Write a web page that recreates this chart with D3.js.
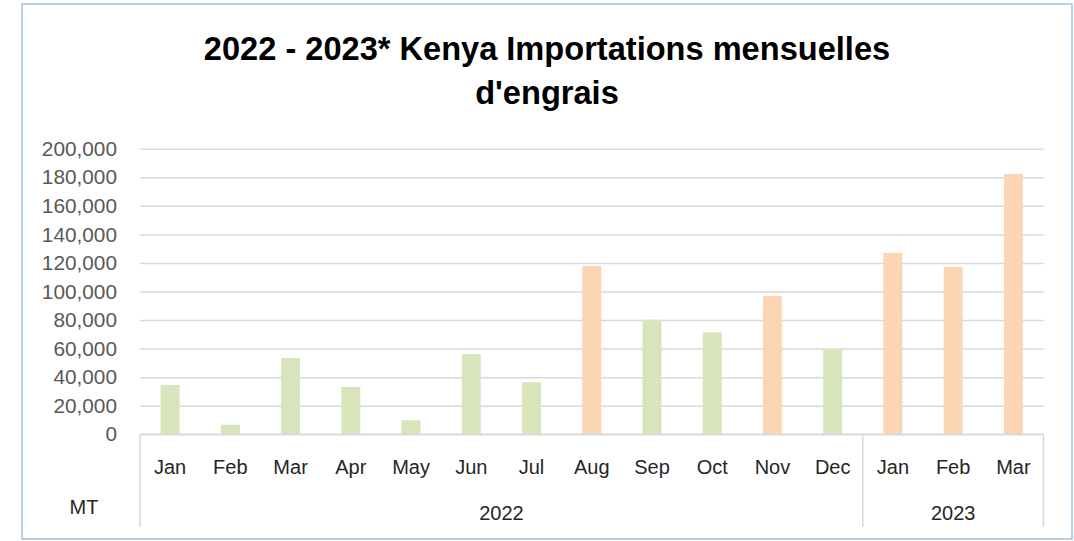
<!DOCTYPE html>
<html>
<head>
<meta charset="utf-8">
<script src="https://cdn.jsdelivr.net/npm/d3@7"></script>
<style>
  html, body { margin: 0; padding: 0; background: #fff; }
  svg { display: block; }
  text { font-family: "Liberation Sans", Arial, sans-serif; }
</style>
</head>
<body>
<div id="chart"></div>
<script>
// chart data
const months = ['Jan', 'Feb', 'Mar', 'Apr', 'May', 'Jun', 'Jul', 'Aug', 'Sep', 'Oct', 'Nov', 'Dec', 'Jan', 'Feb', 'Mar'];
const years = ['2022', '2022', '2022', '2022', '2022', '2022', '2022', '2022', '2022', '2022', '2022', '2022', '2023', '2023', '2023'];
const imports = [34500, 6700, 53400, 33100, 9800, 56200, 36400, 117900, 80300, 71400, 96900, 59500, 127000, 117200, 182300];
const highlighted = [false, false, false, false, false, false, false, true, false, false, true, false, true, true, true];
const yTicks = [0, 20000, 40000, 60000, 80000, 100000, 120000, 140000, 160000, 180000, 200000];
const titleLines = ['2022 - 2023* Kenya Importations mensuelles', "d'engrais"];
const unitLabel = 'MT';

const width = 1074, height = 541;
const plot = { left: 140, right: 1043.5, top: 148.7, bottom: 434.3 };

const svg = d3.select('#chart').append('svg')
  .attr('width', width)
  .attr('height', height);

// chart area border
svg.append('rect')
  .attr('x', 22).attr('y', 4)
  .attr('width', 1050).attr('height', 535)
  .attr('fill', '#fff')
  .attr('stroke', '#9DC3E6')
  .attr('stroke-width', 1.5);

// title
svg.append('text')
  .attr('x', 547)
  .attr('text-anchor', 'middle')
  .attr('font-size', 32.6)
  .attr('font-weight', 'bold')
  .attr('fill', '#000')
  .selectAll('tspan')
  .data(titleLines)
  .enter().append('tspan')
  .attr('x', 547)
  .attr('y', (d, i) => 59.5 + i * 44)
  .text(d => d);

const keys = months.map((m, i) => years[i] + '-' + m);

const x = d3.scaleBand()
  .domain(keys)
  .range([plot.left, plot.right])
  .paddingInner(0.685)
  .paddingOuter(0.3425);

const y = d3.scaleLinear()
  .domain([0, 200000])
  .range([plot.bottom, plot.top]);

// y axis with gridlines
const yAxis = svg.append('g')
  .attr('transform', `translate(${plot.left},0)`)
  .call(d3.axisLeft(y)
    .tickValues(yTicks)
    .tickFormat(d3.format(','))
    .tickSize(-(plot.right - plot.left))
    .tickPadding(23));

yAxis.select('.domain').remove();
yAxis.selectAll('.tick line')
  .attr('stroke', '#D9D9D9')
  .attr('stroke-width', 1.5);
yAxis.selectAll('.tick text')
  .attr('font-size', 20.8)
  .attr('fill', '#595959')
  .attr('font-family', '"Liberation Sans", Arial, sans-serif');

// bars
svg.append('g')
  .selectAll('rect')
  .data(imports)
  .enter().append('rect')
  .attr('x', (d, i) => x(keys[i]))
  .attr('y', d => y(d))
  .attr('width', x.bandwidth())
  .attr('height', d => y(0) - y(d))
  .attr('fill', (d, i) => highlighted[i] ? '#FCD5B4' : '#D8E4BC');

// category axis baseline
svg.append('line')
  .attr('x1', plot.left).attr('x2', plot.right)
  .attr('y1', y(0)).attr('y2', y(0))
  .attr('stroke', '#D9D9D9')
  .attr('stroke-width', 1.5);

// month labels
svg.append('g')
  .selectAll('text')
  .data(months)
  .enter().append('text')
  .attr('x', (d, i) => x(keys[i]) + x.bandwidth() / 2)
  .attr('y', 473.5)
  .attr('text-anchor', 'middle')
  .attr('font-size', 20)
  .attr('fill', '#262626')
  .text(d => d);

// year groups and separators
const groups = d3.groups(years.map((yr, i) => ({ yr, i })), d => d.yr);
const step = x.step();
const sepBottom = 527;

const boundaries = [plot.left];
groups.forEach(([yr, items]) => {
  const first = items[0].i;
  const last = items[items.length - 1].i;
  const x0 = plot.left + first * step;
  const x1 = plot.left + (last + 1) * step;
  boundaries.push(x1);
  svg.append('text')
    .attr('x', (x0 + x1) / 2)
    .attr('y', 519.5)
    .attr('text-anchor', 'middle')
    .attr('font-size', 20)
    .attr('fill', '#262626')
    .text(yr);
});

svg.append('g')
  .selectAll('line')
  .data(boundaries)
  .enter().append('line')
  .attr('x1', d => d).attr('x2', d => d)
  .attr('y1', y(0)).attr('y2', sepBottom)
  .attr('stroke', '#D9D9D9')
  .attr('stroke-width', 1.5);

// unit label
svg.append('text')
  .attr('x', 84)
  .attr('y', 514)
  .attr('text-anchor', 'middle')
  .attr('font-size', 20)
  .attr('fill', '#262626')
  .text(unitLabel);
</script>
</body>
</html>
